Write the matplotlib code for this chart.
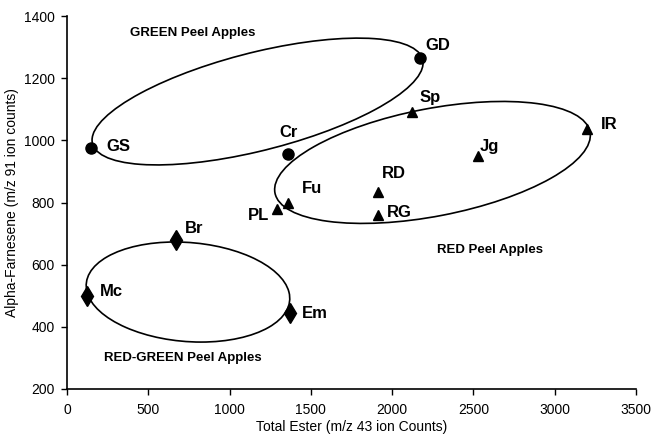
import matplotlib.pyplot as plt
from matplotlib.patches import Circle
from matplotlib.transforms import Affine2D

plt.rcParams['font.family'] = ['Liberation Sans', 'DejaVu Sans']

# apple cultivars, by peel colour group
green_names = ['GS', 'Cr', 'GD']
green_ester = [150, 1360, 2170]
green_farn = [975, 955, 1265]

red_names = ['Sp', 'IR', 'Jg', 'RD', 'RG', 'Fu', 'PL']
red_ester = [2120, 3200, 2530, 1910, 1910, 1360, 1290]
red_farn = [1090, 1035, 950, 835, 760, 800, 780]

rg_names = ['Br', 'Mc', 'Em']
rg_ester = [670, 120, 1370]
rg_farn = [680, 500, 445]

group_labels = ['GREEN Peel Apples', 'RED Peel Apples', 'RED-GREEN Peel Apples']
group_label_x = [770, 2600, 715]
group_label_y = [1345, 647, 300]

# ellipses: centre and two conjugate half-axes (data units)
ell_center = [(1172, 1125), (2248, 929), (744, 512)]
ell_h = [(1018, 124), (969, 98), (621, 0)]
ell_k = [(0, 162), (-61, 170), (-80, 161)]

# label offsets in pixels (dx, dy, ha)
green_off = [(15, 2, 'left'), (0, 22, 'center'), (6, 13, 'left')]
red_off = [(8, 15, 'left'), (14, 5, 'left'), (1, 9, 'left'), (4, 18, 'left'),
           (9, 2, 'left'), (14, 14, 'left'), (-7, -7, 'right')]
rg_off = [(9, 11, 'left'), (13, 4, 'left'), (12, -1, 'left')]

fig = plt.figure(figsize=(6.52, 4.34), dpi=100)
ax = fig.add_axes([0.1028, 0.1037, 0.8727, 0.8593])

ax.plot(green_ester, green_farn, 'o', color='black', markersize=8, linestyle='none')
ax.plot(red_ester, red_farn, '^', color='black', markersize=7.5, linestyle='none')
ax.plot(rg_ester, rg_farn, 'd', color='black', markersize=10, linestyle='none')

for names, xs, ys, offs in [(green_names, green_ester, green_farn, green_off),
                            (red_names, red_ester, red_farn, red_off),
                            (rg_names, rg_ester, rg_farn, rg_off)]:
    for n, x, y, (dx, dy, ha) in zip(names, xs, ys, offs):
        ax.annotate(n, (x, y), xytext=(dx, dy), textcoords='offset pixels',
                    ha=ha, va='center', fontsize=12, fontweight='bold')

for (cx, cy), (hx, hy), (kx, ky) in zip(ell_center, ell_h, ell_k):
    tr = Affine2D.from_values(hx, hy, kx, ky, cx, cy) + ax.transData
    ax.add_patch(Circle((0, 0), 1, fill=False, edgecolor='black', linewidth=1.2, transform=tr))

for lab, x, y in zip(group_labels, group_label_x, group_label_y):
    ax.text(x, y, lab, ha='center', va='center', fontsize=9.5, fontweight='bold')

ax.set_xlim(0, 3500)
ax.set_ylim(200, 1400)
ax.set_xticks(range(0, 3501, 500))
ax.set_yticks(range(200, 1401, 200))

ax.spines['top'].set_visible(False)
ax.spines['right'].set_visible(False)
ax.spines['left'].set_linewidth(1.2)
ax.spines['bottom'].set_linewidth(1.2)
ax.tick_params(axis='both', direction='out', length=4, width=1, labelsize=10)
ax.tick_params(axis='x', pad=6)
ax.tick_params(axis='y', pad=5)

ax.set_xlabel('Total Ester (m/z 43 ion Counts)', fontsize=10, labelpad=2)
ax.set_ylabel('Alpha-Farnesene (m/z 91 ion counts)', fontsize=10, labelpad=3)

fig.savefig('out.png', dpi=100)
